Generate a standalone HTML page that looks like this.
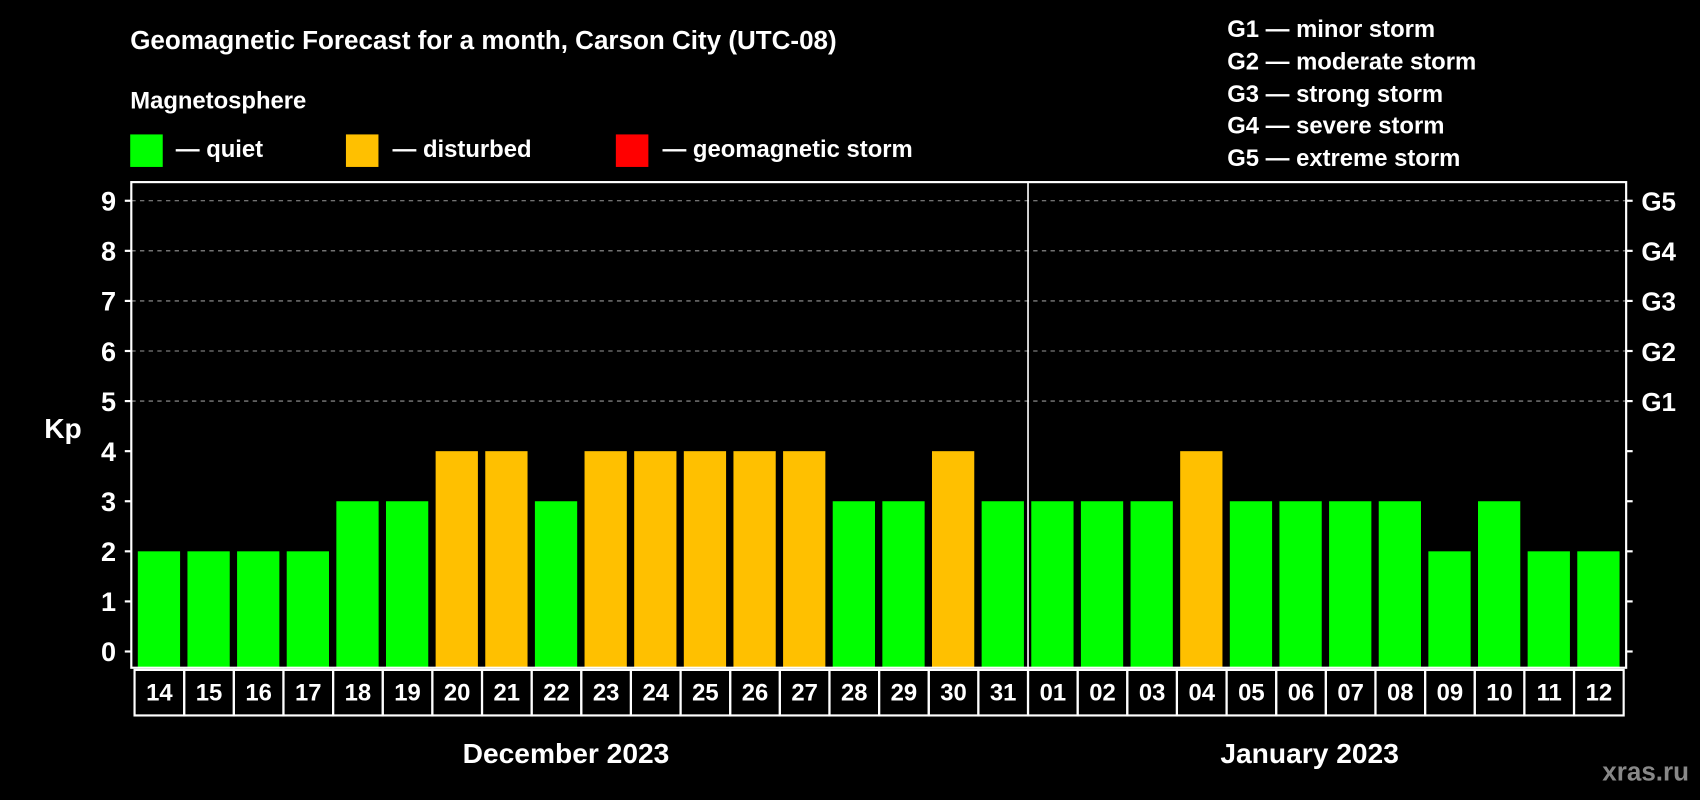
<!DOCTYPE html>
<html><head><meta charset="utf-8"><style>
html,body{margin:0;padding:0;background:#000;}
svg{display:block;font-family:"Liberation Sans",Arial,sans-serif;font-weight:bold;}
</style></head><body>
<svg id="chart" width="1700" height="800" viewBox="0 0 1568 738" xmlns="http://www.w3.org/2000/svg">
<rect width="1568" height="738" fill="#000"/>
<text x="120" y="45" fill="#fff" font-size="24">Geomagnetic Forecast for a month, Carson City (UTC-08)</text>
<text x="120" y="100" fill="#fff" font-size="22">Magnetosphere</text>
<g><rect x="120" y="124" width="30" height="30" fill="#00ff00"/><text x="162" y="145" fill="#fff" font-size="22">— quiet</text></g>
<g><rect x="319" y="124" width="30" height="30" fill="#ffc000"/><text x="362" y="145" fill="#fff" font-size="22">— disturbed</text></g>
<g><rect x="568" y="124" width="30" height="30" fill="#ff0000"/><text x="611" y="145" fill="#fff" font-size="22">— geomagnetic storm</text></g>
<g fill="#fff" font-size="22">
<text x="1132" y="34">G1 — minor storm</text>
<text x="1132" y="64">G2 — moderate storm</text>
<text x="1132" y="94">G3 — strong storm</text>
<text x="1132" y="123">G4 — severe storm</text>
<text x="1132" y="153">G5 — extreme storm</text>
</g>
<g id="grid"></g>
<g id="bars"></g>
<g id="axes"></g>
<text x="58" y="404" fill="#fff" font-size="26" text-anchor="middle">Kp</text>
<text x="522" y="704" fill="#fff" font-size="26" text-anchor="middle">December 2023</text>
<text x="1208" y="704" fill="#fff" font-size="26" text-anchor="middle">January 2023</text>
<text x="1558" y="720" fill="#888" font-size="24" text-anchor="end">xras.ru</text>
</svg>
<script>
const days = ["14","15","16","17","18","19","20","21","22","23","24","25","26","27","28","29","30","31","01","02","03","04","05","06","07","08","09","10","11","12","13"].slice(0,30);
const kpValues = [2,2,2,2,3,3,4,4,3,4,4,4,4,4,3,3,4,3,3,3,3,4,3,3,3,3,2,3,2,2,2].slice(0,30);
const yTicks = [0,1,2,3,4,5,6,7,8,9];
const gLabels = ["G1","G2","G3","G4","G5"];
const gLevels = [5,6,7,8,9];
const NS="http://www.w3.org/2000/svg";
const L=121,R=1500,T=168,B=616,X0=125,P=45.79,BW=39;
const y=v=>601-v*46.2;
const x=i=>X0+i*P;
function mk(t,a,p){const e=document.createElementNS(NS,t);for(const k in a)e.setAttribute(k,a[k]);p.appendChild(e);return e;}
const grid=document.getElementById('grid'),bars=document.getElementById('bars'),axes=document.getElementById('axes');
gLevels.forEach(v=>{const l=mk('line',{x1:L,x2:R,y1:y(v),y2:y(v),stroke:'#999','stroke-dasharray':'4,4','stroke-width':1},grid);

});
kpValues.forEach((v,i)=>{const c=v>=5?'#ff0000':(v>=4?'#ffc000':'#00ff00');
const r=mk('rect',{x:x(i)+2,y:y(v),width:BW,height:B-y(v),fill:c},bars);

});
mk('rect',{x:L,y:T,width:R-L,height:B-T,fill:'none',stroke:'#fff','stroke-width':2},axes);
const div=mk('line',{x1:x(18)-1,x2:x(18)-1,y1:T,y2:B,stroke:'#fff','stroke-width':1.5},axes);


yTicks.forEach(v=>{mk('line',{x1:L-6,x2:L,y1:y(v),y2:y(v),stroke:'#fff','stroke-width':2},axes);
mk('line',{x1:R,x2:R+6,y1:y(v),y2:y(v),stroke:'#fff','stroke-width':2},axes);
const t=mk('text',{x:L-14,y:y(v)+9,fill:'#fff','font-size':25,'text-anchor':'end'},axes);t.textContent=v;

});
gLevels.forEach((v,i)=>{const t=mk('text',{x:R+14,y:y(v)+9,fill:'#fff','font-size':24},axes);t.textContent=gLabels[i];

});
days.forEach((d,i)=>{mk('rect',{x:x(i)-1,y:B+2,width:P,height:42,fill:'none',stroke:'#fff','stroke-width':2},axes);
const t=mk('text',{x:x(i)+P/2-1,y:B+30,fill:'#fff','font-size':22,'text-anchor':'middle'},axes);t.textContent=d;

});
</script>
</body></html>
